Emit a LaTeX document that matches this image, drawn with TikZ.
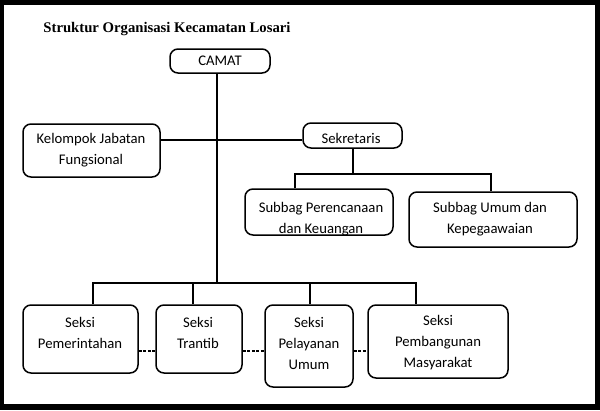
\documentclass[tikz,border=0pt]{standalone}
\usepackage{fontspec}
\setmainfont{Carlito}
\newfontfamily\titlefont{Liberation Serif}
\begin{document}
\begin{tikzpicture}[x=1pt,y=-1pt,
  box/.style={draw, line width=1.5pt, rounded corners=8pt, inner sep=0pt, minimum width=#1},
  lbl/.style={font=\fontsize{14.7}{21}\selectfont, align=center, inner sep=0pt},
  conn/.style={draw, line width=1.2pt},
  dashconn/.style={draw, line width=1.3pt, dash pattern=on 3pt off 1.5pt}]
% frame
\fill[black] (0,0) rectangle (600,410);
\fill[white] (4,5) rectangle (595,404);
\useasboundingbox (0,0) rectangle (600,410);
% title
\node[inner sep=0pt, font=\titlefont\bfseries\fontsize{14.7}{18}\selectfont] (title) at (167,29) {Struktur Organisasi Kecamatan Losari};
% boxes
\node[box=100pt, minimum height=24pt] (camat) at (220,61) {};
\node[box=137pt, minimum height=53pt] (kel) at (91.5,150.5) {};
\node[box=99pt, minimum height=25pt] (sek) at (352.5,135.5) {};
\node[box=148pt, minimum height=46pt] (sp) at (319,212) {};
\node[box=168pt, minimum height=55pt] (su) at (493,219.5) {};
\node[box=115pt, minimum height=68pt] (pem) at (80.5,339) {};
\node[box=86pt, minimum height=68pt] (tra) at (199,339) {};
\node[box=88pt, minimum height=82pt] (pel) at (309,346) {};
\node[box=140pt, minimum height=73pt] (pmb) at (438,341.5) {};
% texts
\node[lbl] (camatt) at (220,61) {CAMAT};
\node[lbl] (kelt) at (91,150.5) {Kelompok Jabatan\\Fungsional};
\node[lbl] (sekt) at (351,138) {Sekretaris};
\node[lbl] (spt) at (321,219) {Subbag Perencanaan\\dan Keuangan};
\node[lbl] (sut) at (490,219) {Subbag Umum dan\\Kepegaawaian};
\node[lbl] (pemt) at (80,332.5) {Seksi\\Pemerintahan};
\node[lbl] (trat) at (198,332.5) {Seksi\\Trantib};
\node[lbl] (pelt) at (309,343) {Seksi\\Pelayanan\\Umum};
\node[lbl] (pmbt) at (438,343) {Seksi\\Pembangunan\\Masyarakat};
% junction coordinates
\coordinate (busc) at (217,283);
\coordinate (hline) at (217,140);
\coordinate (sekbus) at (353,174);
% CAMAT to bottom bus
\draw[conn] (camat.south -| busc) -- (busc);
% Kelompok - Sekretaris line
\draw[conn] (kel.east |- hline) -- (sek.west |- hline);
% Sekretaris to subbag
\draw[conn] (sek.south -| sekbus) -- (sekbus);
\draw[conn] (sp.north -| 295,0) -- (295,174) -- (491,174) -- (su.north -| 491,0);
% bottom bus
\draw[conn] (pem.north -| 93,0) -- (93,283) -- (416,283) -- (pmb.north -| 416,0);
\draw[conn] (tra.north -| 193,0) -- (193,283);
\draw[conn] (pel.north -| 310,0) -- (310,283);
% dashed links
\draw[dashconn] (pem.east |- 0,351) -- (tra.west |- 0,351);
\draw[dashconn] (tra.east |- 0,351) -- (pel.west |- 0,351);
\draw[dashconn] (pel.east |- 0,351) -- (pmb.west |- 0,351);
\end{tikzpicture}
\end{document}
